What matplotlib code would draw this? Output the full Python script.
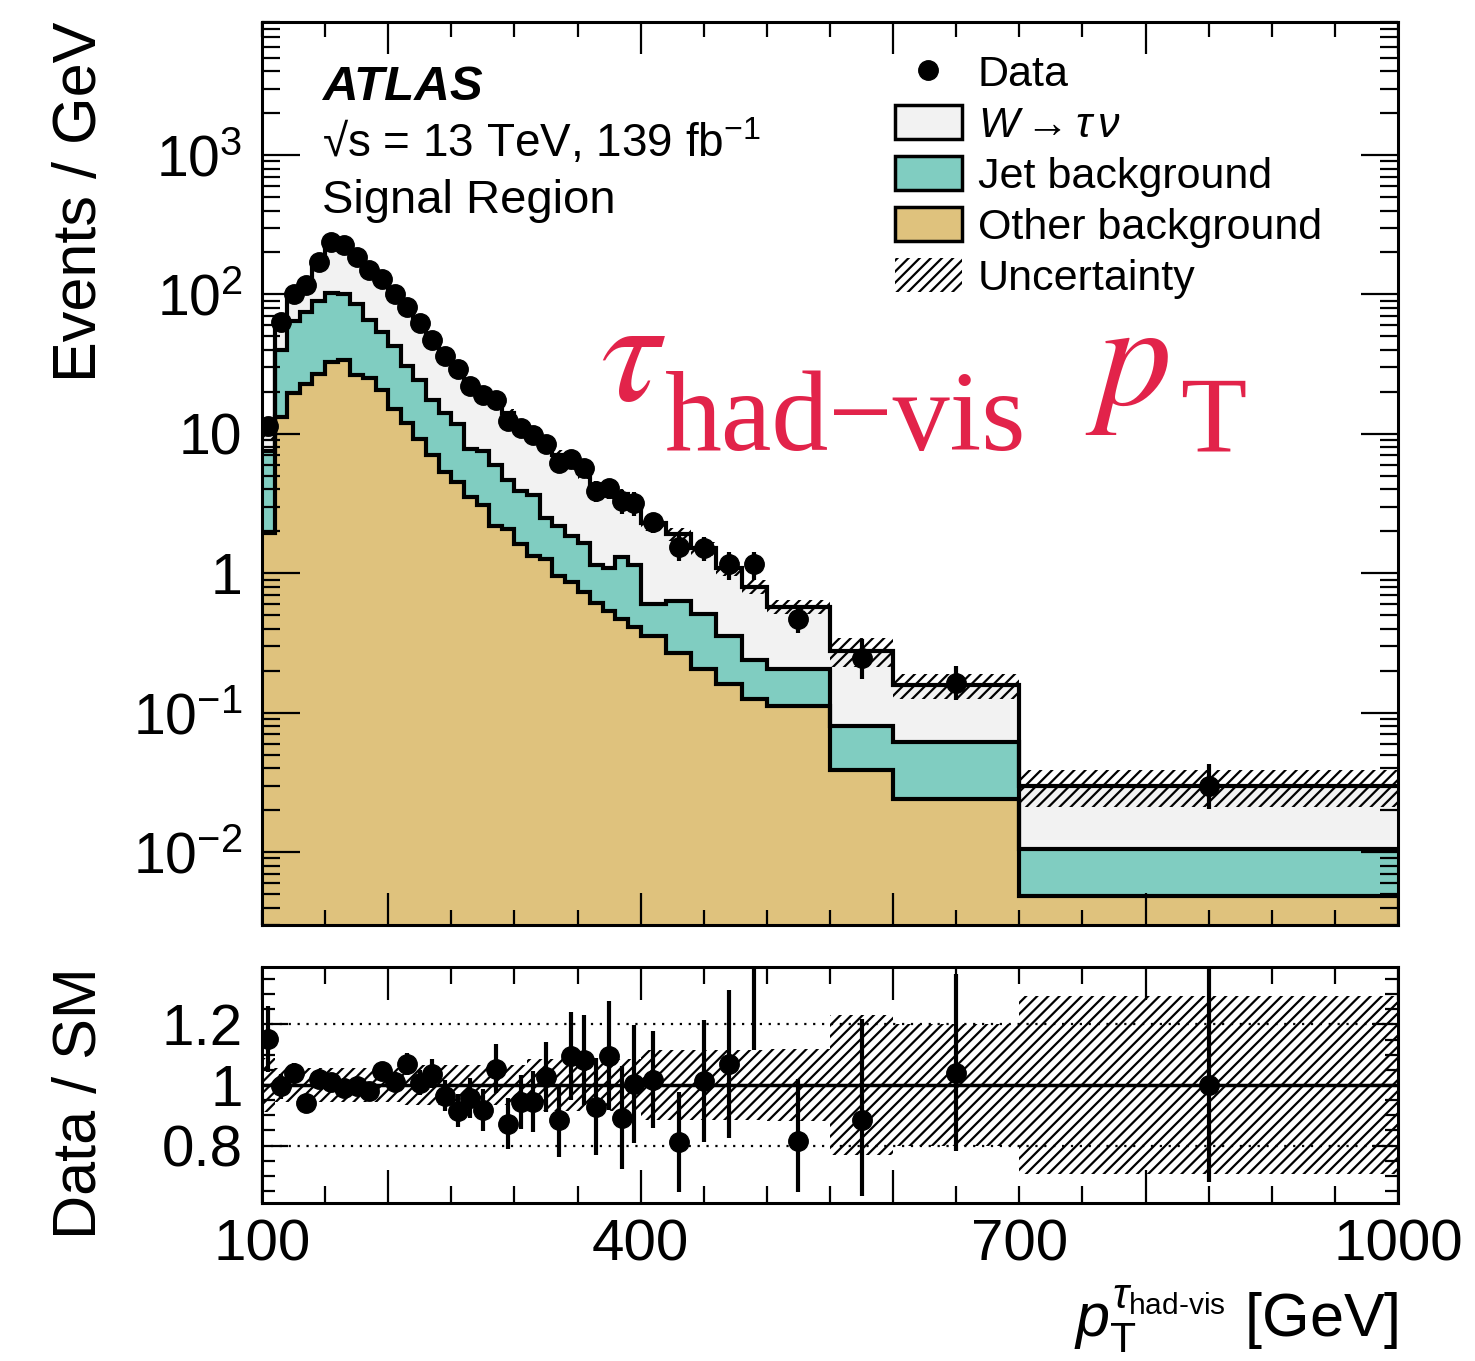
import numpy as np
import matplotlib
matplotlib.use('Agg')
import matplotlib.pyplot as plt
from matplotlib.lines import Line2D
from matplotlib.patches import Patch
from matplotlib.ticker import LogLocator, NullFormatter, FixedLocator, FixedFormatter, MultipleLocator

plt.rcParams['font.family'] = ['Liberation Sans', 'DejaVu Sans']
plt.rcParams['mathtext.fontset'] = 'custom'
plt.rcParams['mathtext.rm'] = 'Liberation Sans'
plt.rcParams['mathtext.it'] = 'Liberation Sans:italic'
plt.rcParams['mathtext.bf'] = 'Liberation Sans:bold'
plt.rcParams['hatch.linewidth'] = 1.6

# ---------------- data ----------------
bin_edges = [100, 110, 120, 130, 140, 150, 160, 170, 180, 190, 200, 210, 220, 230, 240,
             250, 260, 270, 280, 290, 300, 310, 320, 330, 340, 350, 360, 370, 380, 390,
             400, 420, 440, 460, 480, 500, 550, 600, 700, 1000]

data_events = [11.4, 63, 100, 116, 170, 238, 225, 186, 149, 129, 100, 81.5, 62, 47, 36,
               29, 22, 19, 17.6, 12.3, 11.1, 9.8, 8.4, 6.2, 6.6, 5.65, 3.9, 4.1, 3.3, 3.2,
               2.32, 1.55, 1.53, 1.16, 1.16, 0.47, 0.245, 0.163, 0.030]

other_bkg = [1.96, 13.2, 19.7, 22.6, 27, 32.6, 34, 26.6, 25, 20.6, 15.1, 12, 9.2, 7.1, 5.3,
             4.5, 3.5, 3.1, 2.18, 2.07, 1.61, 1.33, 1.27, 0.95, 0.86, 0.74, 0.61, 0.54, 0.47, 0.41,
             0.356, 0.267, 0.205, 0.16, 0.125, 0.111, 0.0388, 0.024, 0.00483]

jet_bkg = [5.54, 26.8, 44.3, 52.4, 63, 70.4, 66, 58.4, 41, 33.4, 27.4, 18.5, 15.3, 10.5, 8.7,
           7.3, 4.3, 4.45, 3.77, 2.63, 2.29, 2.32, 1.23, 1.23, 0.99, 0.92, 0.54, 0.55, 0.83, 0.74,
           0.244, 0.363, 0.305, 0.196, 0.113, 0.096, 0.0417, 0.0372, 0.00571]

w_taunu = [2.4, 23.3, 32.2, 48.4, 76.8, 132.4, 127.5, 101.6, 85.9, 69.3, 56.4, 45.8, 37.0, 27.7, 23.3,
           19.9, 15.2, 13.15, 10.75, 9.4, 7.85, 6.72, 5.68, 4.84, 4.17, 3.56, 3.05, 2.65, 2.40, 2.04,
           1.68, 1.28, 1.00, 0.729, 0.562, 0.369, 0.1965, 0.0958, 0.01946]

# relative total uncertainty of the prediction
syst_unc = [0.09, 0.055, 0.055, 0.055, 0.055, 0.055, 0.055, 0.055, 0.055, 0.055, 0.055,
            0.065, 0.065, 0.065, 0.065, 0.065, 0.065, 0.065, 0.065, 0.065, 0.065,
            0.085, 0.085, 0.085, 0.085, 0.085, 0.085, 0.085, 0.085, 0.085,
            0.115, 0.115, 0.115, 0.115, 0.115, 0.12, 0.23, 0.20, 0.295]

# statistical error on data / SM (down, up)
ratio_err_lo = [0.11, 0.04, 0.033, 0.028, 0.025, 0.02, 0.021, 0.023, 0.026, 0.029, 0.032, 0.036,
                0.04, 0.048, 0.05, 0.055, 0.065, 0.07, 0.08, 0.085, 0.09, 0.1, 0.115, 0.12, 0.145,
                0.15, 0.16, 0.18, 0.17, 0.195, 0.16, 0.165, 0.2, 0.245, 0.335, 0.17, 0.25, 0.255, 0.32]
ratio_err_hi = [0.11, 0.04, 0.033, 0.028, 0.025, 0.02, 0.021, 0.023, 0.026, 0.029, 0.032, 0.036,
                0.04, 0.048, 0.05, 0.055, 0.065, 0.07, 0.08, 0.085, 0.09, 0.1, 0.115, 0.12, 0.145,
                0.15, 0.16, 0.18, 0.17, 0.195, 0.16, 0.165, 0.2, 0.245, 0.335, 0.205, 0.333, 0.33, 0.42]

xtick_labels = ['100', '400', '700', '1000']
ytick_labels = ['$10^{-2}$', '$10^{-1}$', '1', '10', '$10^{2}$', '$10^{3}$']
rtick_labels = ['0.8', '1', '1.2']

C_W = '#f2f2f2'
C_JET = '#80cdc1'
C_OTH = '#dfc27d'
C_RED = '#e2234a'

# ---------------- figure ----------------
W, H = 1475, 1361
fig = plt.figure(figsize=(W / 100, H / 100), dpi=100)
ax = fig.add_axes([262 / W, 1 - 925 / H, 1136 / W, 903 / H])
rax = fig.add_axes([262 / W, 1 - 1203 / H, 1136 / W, 236 / H])

edges = np.array(bin_edges, dtype=float)
centers = 0.5 * (edges[1:] + edges[:-1])
data = np.array(data_events)
oth = np.array(other_bkg)
jet = np.array(jet_bkg)
wtn = np.array(w_taunu)
lvl1 = oth
lvl2 = oth + jet
lvl3 = lvl2 + wtn
unc = np.array(syst_unc)
elo = np.array(ratio_err_lo)
ehi = np.array(ratio_err_hi)

ymin, ymax = 0.003, 9000
base = 1e-5
ax.stairs(lvl3, edges, baseline=lvl2, fill=True, color=C_W, lw=0, zorder=1)
ax.stairs(lvl2, edges, baseline=lvl1, fill=True, color=C_JET, lw=0, zorder=1)
ax.stairs(lvl1, edges, baseline=base, fill=True, color=C_OTH, lw=0, zorder=1)
for lv in (lvl1, lvl2, lvl3):
    ax.stairs(lv, edges, baseline=None, color='black', lw=3, zorder=2)
ax.stairs(lvl3 * (1 + unc), edges, baseline=lvl3 * (1 - unc), fill=True,
          facecolor='none', edgecolor='black', hatch='///', lw=0, zorder=3)
ax.errorbar(centers, data, yerr=[elo * lvl3, ehi * lvl3], fmt='o', color='black',
            ms=14, elinewidth=3, capsize=0, zorder=5)

ax.set_xlim(100, 1000)
ax.set_yscale('log')
ax.set_ylim(ymin, ymax)

# ratio
ratio = data / lvl3
rax.stairs(1 + unc, edges, baseline=1 - unc, fill=True, facecolor='none',
           edgecolor='black', hatch='///', lw=0, zorder=1)
rax.axhline(1.0, color='black', lw=2.5, zorder=2)
rax.axhline(1.2, color='black', lw=1.6, ls=(0, (1, 3)), zorder=2)
rax.axhline(0.8, color='black', lw=1.6, ls=(0, (1, 3)), zorder=2)
rax.errorbar(centers, ratio, yerr=[elo, ehi], fmt='o', color='black', ms=14,
             elinewidth=3, capsize=0, zorder=5, clip_on=True)
rax.set_xlim(100, 1000)
rax.set_ylim(0.61, 1.39)

# ---------------- ticks ----------------
for a in (ax, rax):
    for s in a.spines.values():
        s.set_linewidth(2.2)
    a.tick_params(which='both', direction='in', top=True, right=True, width=1.6)

ax.yaxis.set_major_locator(FixedLocator([1e-2, 1e-1, 1, 10, 1e2, 1e3]))
ax.yaxis.set_major_formatter(FixedFormatter(ytick_labels))
ax.yaxis.set_minor_locator(LogLocator(base=10, subs=np.arange(2, 10), numticks=20))
ax.yaxis.set_minor_formatter(NullFormatter())
ax.tick_params(axis='y', which='major', length=27, labelsize=41, pad=14)
ax.tick_params(axis='y', which='minor', length=13)
ax.xaxis.set_major_locator(FixedLocator([200, 400, 600, 800, 1000]))
ax.xaxis.set_minor_locator(MultipleLocator(50))
ax.tick_params(axis='x', which='major', length=23, labelbottom=False)
ax.tick_params(axis='x', which='minor', length=11)

rax.xaxis.set_major_locator(FixedLocator([100, 200, 400, 600, 700, 800, 1000]))
rax.xaxis.set_major_formatter(FixedFormatter([xtick_labels[0], '', xtick_labels[1], '',
                                              xtick_labels[2], '', xtick_labels[3]]))
rax.xaxis.set_minor_locator(MultipleLocator(50))
rax.tick_params(axis='x', which='major', length=24, labelsize=42, pad=11)
rax.tick_params(axis='x', which='minor', length=12)
rax.yaxis.set_major_locator(FixedLocator([0.8, 1.0, 1.2]))
rax.yaxis.set_major_formatter(FixedFormatter(rtick_labels))
rax.yaxis.set_minor_locator(MultipleLocator(0.05))
rax.tick_params(axis='y', which='major', length=19, labelsize=42, pad=14)
rax.tick_params(axis='y', which='minor', length=9.6)
for t, loc in zip(rax.xaxis.get_major_ticks(), [100, 200, 400, 600, 700, 800, 1000]):
    if loc == 700:
        t.tick1line.set_markersize(12)
        t.tick2line.set_markersize(12)

# ---------------- labels ----------------
ax.set_ylabel('Events / GeV', fontsize=44, loc='top')
ax.yaxis.set_label_coords(-0.135, 1.0)
rax.set_ylabel('Data / SM', fontsize=44, loc='top')
rax.yaxis.set_label_coords(-0.135, 1.0)
rax.set_xlabel(r'$p_{\mathrm{T}}^{\tau_{\text{had-vis}}}$ [GeV]', fontsize=44, loc='right', labelpad=8)

ax.text(0.0528, 0.9136, 'ATLAS', transform=ax.transAxes, fontsize=35.5,
        fontweight='bold', fontstyle='italic', va='baseline')
ax.text(0.0528, 0.8505, '\u221as = 13 TeV, 139 fb$^{-1}$', transform=ax.transAxes,
        fontsize=33, va='baseline')
ax.text(0.0528, 0.7885, 'Signal Region', transform=ax.transAxes, fontsize=34, va='baseline')

# red annotation: tau_had-vis p_T
ax.text(0.2975, 0.5814, r'$\tau$', transform=ax.transAxes, fontsize=108, color=C_RED,
        va='baseline', math_fontfamily='stix')
ax.text(0.3548, 0.526, 'had\u2212vis', transform=ax.transAxes, fontsize=82, color=C_RED,
        va='baseline', family=['Liberation Serif', 'DejaVu Serif'])
ax.text(0.7245, 0.577, r'$p$', transform=ax.transAxes, fontsize=108, color=C_RED,
        va='baseline', math_fontfamily='stix')
ax.text(0.8081, 0.526, 'T', transform=ax.transAxes, fontsize=78, color=C_RED,
        va='baseline', family=['Liberation Serif', 'DejaVu Serif'])

handles = [
    Line2D([], [], marker='o', color='black', ls='none', ms=14),
    Patch(facecolor=C_W, edgecolor='black', lw=2.5),
    Patch(facecolor=C_JET, edgecolor='black', lw=2.5),
    Patch(facecolor=C_OTH, edgecolor='black', lw=2.5),
    Patch(facecolor='none', edgecolor='black', hatch='///', lw=0),
]
labels = ['Data', r'$W\rightarrow\tau\,\nu$', 'Jet background', 'Other background', 'Uncertainty']
ax.legend(handles, labels, loc='upper left', bbox_to_anchor=(0.5572, 0.9650), frameon=False,
          fontsize=31, borderpad=0, borderaxespad=0, handlelength=1.55, handleheight=0.84,
          handletextpad=0.37, labelspacing=0.235)

fig.savefig('out.png', dpi=100)
